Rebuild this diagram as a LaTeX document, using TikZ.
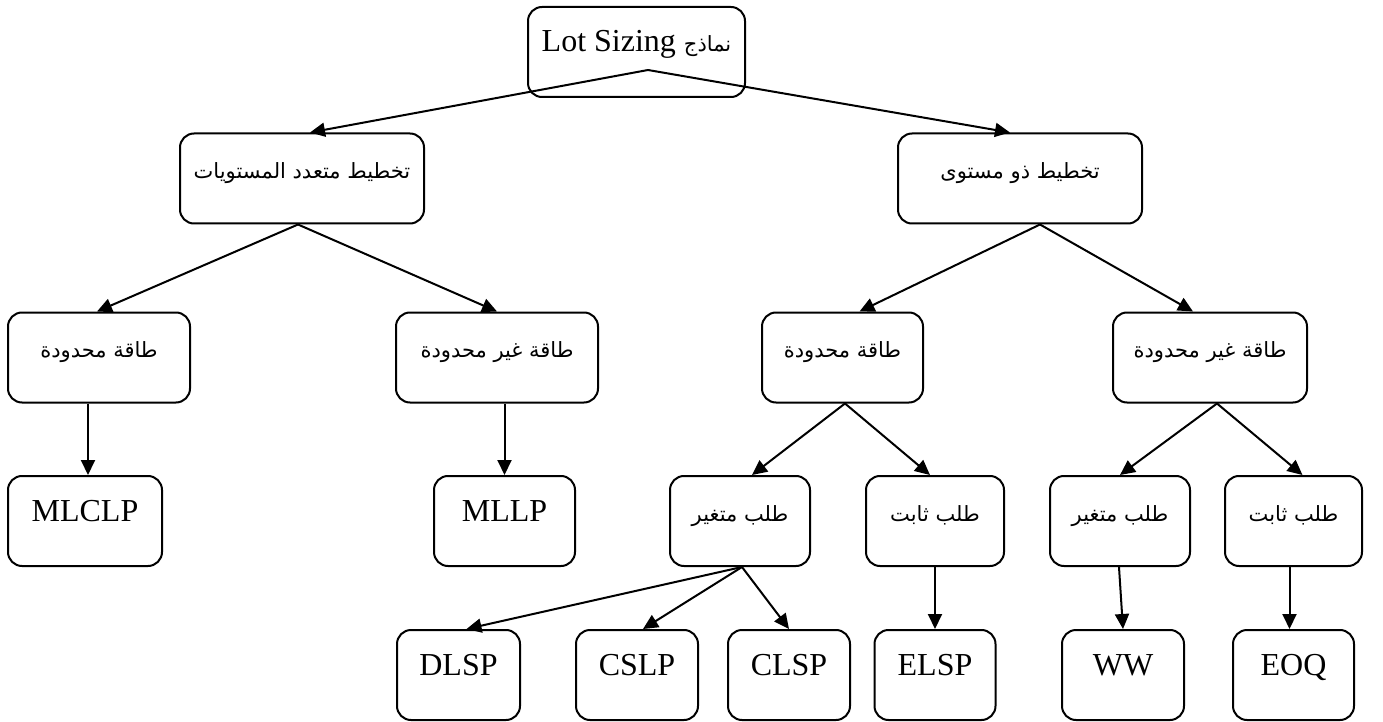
\documentclass[tikz,border=0pt]{standalone}
\usepackage{fontspec}
\setmainfont{Liberation Serif}
\newfontfamily\arabicfont[Script=Arabic]{DejaVu Sans}
\TeXXeTstate=1
\usetikzlibrary{arrows.meta,calc}
\newcommand{\artext}[1]{{\arabicfont\fontsize{10.5}{12.5}\selectfont\beginR #1\endR}}

\tikzset{
  box/.style={draw, line width=1pt, rounded corners=7pt, inner sep=0pt,
    text height=12pt, text depth=12pt, minimum height=45pt,
    font=\fontsize{16}{19}\selectfont},
  link/.style={line width=1pt, -{Triangle[length=7.5pt,width=7pt]}},
}

\begin{document}
\begin{tikzpicture}[x=0.5pt, y=-0.5pt]
\useasboundingbox (0,0) rectangle (1383,722);

% root
\node[box, minimum width=108.5pt] (top) at (636.5,52) {Lot Sizing \artext{نماذج}};

% planning level
\node[box, minimum width=122pt] (multi)  at (302,178.5)  {\artext{تخطيط متعدد المستويات}};
\node[box, minimum width=122pt] (single) at (1020,178.5) {\artext{تخطيط ذو مستوى}};

% capacity
\node[box, minimum width=91pt]   (capA)   at (99,357.5)   {\artext{طاقة محدودة}};
\node[box, minimum width=101pt]  (uncapA) at (497,357.5)  {\artext{طاقة غير محدودة}};
\node[box, minimum width=80.5pt] (capB)   at (842.5,357.5){\artext{طاقة محدودة}};
\node[box, minimum width=97pt]   (uncapB) at (1210,357.5) {\artext{طاقة غير محدودة}};

% demand / multi-level models
\node[box, minimum width=77pt]   (mlclp) at (85,521)     {MLCLP};
\node[box, minimum width=70.5pt] (mllp)  at (504.5,521)  {MLLP};
\node[box, minimum width=70pt]   (varB)  at (740,521)    {\artext{طلب متغير}};
\node[box, minimum width=69pt]   (fixB)  at (935,521)    {\artext{طلب ثابت}};
\node[box, minimum width=70pt]   (varC)  at (1120,521)   {\artext{طلب متغير}};
\node[box, minimum width=68.5pt] (fixC)  at (1293.5,521) {\artext{طلب ثابت}};

% single-level models
\node[box, minimum width=61.5pt] (dlsp) at (458.5,675)  {DLSP};
\node[box, minimum width=61pt]   (cslp) at (637,675)    {CSLP};
\node[box, minimum width=61pt]   (clsp) at (789,675)    {CLSP};
\node[box, minimum width=60.5pt] (elsp) at (935,675)    {ELSP};
\node[box, minimum width=61pt]   (ww)   at (1123,675)   {WW};
\node[box, minimum width=60.5pt] (eoq)  at (1293.5,675) {EOQ};

% connectors
\coordinate (topfork) at ($(top.center)+(11.5,18)$);
\draw[link] (topfork) -- ($(multi.north)+(8,0)$);
\draw[link] (topfork) -- ($(single.north)+(-10,0)$);

\draw[link] ($(multi.south)+(-4,0)$) -- ($(capA.north)+(-2,0)$);
\draw[link] ($(multi.south)+(-4,0)$) -- (uncapA.north);
\draw[link] ($(single.south)+(20,0)$) -- ($(capB.north)+(17,0)$);
\draw[link] ($(single.south)+(20,0)$) -- ($(uncapB.north)+(-17,0)$);

\draw[link] ($(mlclp.north |- capA.south)+(3,0)$) -- ($(mlclp.north)+(3,0)$);
\draw[link] (mllp.north |- uncapA.south) -- (mllp.north);

\draw[link] ($(capB.south)+(2.5,0)$) -- ($(varB.north)+(12,0)$);
\draw[link] ($(capB.south)+(2.5,0)$) -- ($(fixB.north)+(-5,0)$);
\draw[link] ($(uncapB.south)+(7,0)$) -- (varC.north);
\draw[link] ($(uncapB.south)+(7,0)$) -- ($(fixC.north)+(9,0)$);

\draw[link] ($(varB.south)+(2,0)$) -- ($(dlsp.north)+(8,0)$);
\draw[link] ($(varB.south)+(2,0)$) -- ($(cslp.north)+(6,0)$);
\draw[link] ($(varB.south)+(2,0)$) -- (clsp.north);
\draw[link] (fixB.south) -- (elsp.north);
\draw[link] ($(varC.south)+(-1,0)$) -- (ww.north);
\draw[link] ($(fixC.south)+(-4,0)$) -- ($(eoq.north)+(-4,0)$);
\end{tikzpicture}
\end{document}
